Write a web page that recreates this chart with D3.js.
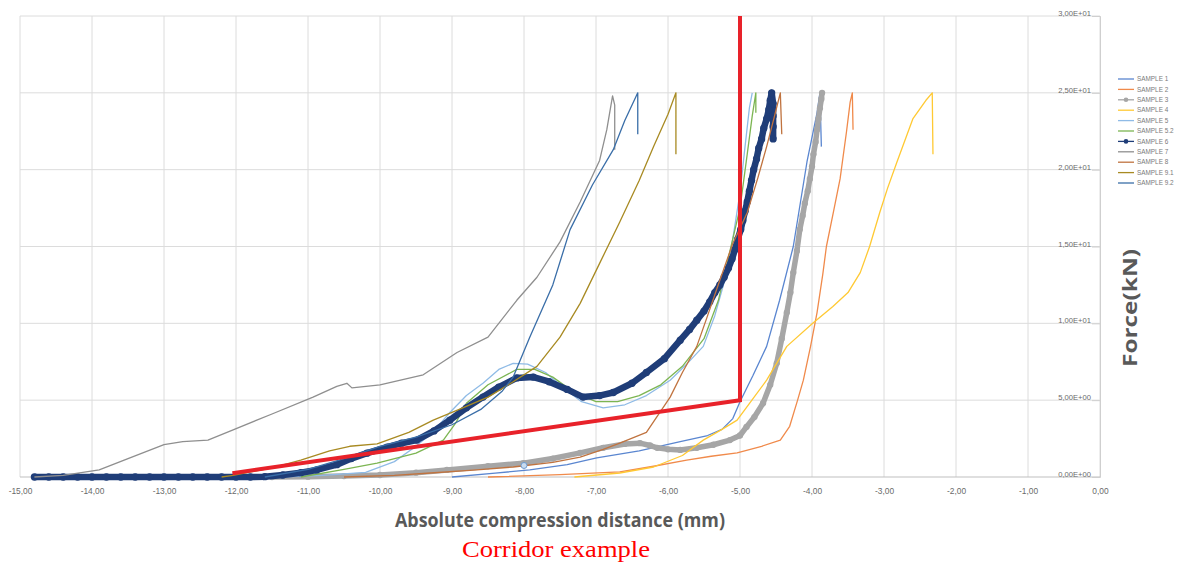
<!DOCTYPE html>
<html>
<head>
<meta charset="utf-8">
<script src="https://cdn.jsdelivr.net/npm/d3@7"></script>
<style>
  body { margin: 0; background: #fff; }
  svg { display: block; }
</style>
</head>
<body>
<div id="chart"></div>
<script>
// tick values
var xTicks = [-15, -14, -13, -12, -11, -10, -9, -8, -7, -6, -5, -4, -3, -2, -1, 0];
var yTicks = [0, 5, 10, 15, 20, 25, 30];

var seriesNames = ["SAMPLE 1", "SAMPLE 2", "SAMPLE 3", "SAMPLE 4", "SAMPLE 5", "SAMPLE 5.2",
                   "SAMPLE 6", "SAMPLE 7", "SAMPLE 8", "SAMPLE 9.1", "SAMPLE 9.2"];
var seriesColors = ["#5a86d0", "#f08a4b", "#a6a6a6", "#ffc933", "#8fbbe6", "#7cb552",
                    "#1f3d78", "#8f8f8f", "#c0733f", "#a88a22", "#3a6ea8"];

// [distance (mm), force (kN)]
var sample1 = [[-9.0,0],[-8.4,0.25],[-7.92,0.46],[-7.4,0.8],[-6.99,1.24],[-6.4,1.7],[-5.83,2.3],
  [-5.45,2.7],[-5.25,3.1],[-5.1,3.8],[-5.0,4.9],[-4.82,6.6],[-4.63,8.5],[-4.45,11.5],[-4.26,15.0],
  [-4.07,20.5],[-3.93,23.7],[-3.89,25.0],[-3.87,21.5]];
var sample2 = [[-8.5,0],[-7.5,0.15],[-6.67,0.33],[-6.2,0.7],[-5.74,1.1],[-5.4,1.35],[-5.04,1.57],
  [-4.7,2.0],[-4.44,2.4],[-4.31,3.3],[-4.2,5.0],[-4.12,6.3],[-4.02,8.5],[-3.93,10.7],[-3.85,13.2],
  [-3.8,15.0],[-3.7,17.3],[-3.61,19.4],[-3.52,22.5],[-3.47,24.4],[-3.44,25.0],[-3.43,22.6]];
var sample3 = [[-11.5,0],[-11.0,0.02],[-10.5,0.06],[-10.0,0.13],[-9.5,0.28],[-9.07,0.46],[-8.5,0.7],
  [-8.01,0.9],[-7.6,1.2],[-7.22,1.57],[-6.9,1.9],[-6.6,2.15],[-6.39,2.2],[-6.25,2.05],[-6.15,1.9],
  [-6.0,1.8],[-5.83,1.76],[-5.6,1.9],[-5.37,2.1],[-5.14,2.4],[-5.0,2.7],[-4.91,3.26],[-4.8,3.9],
  [-4.68,4.8],[-4.58,6.0],[-4.49,7.4],[-4.42,9.0],[-4.35,10.7],[-4.3,12.0],[-4.26,13.3],[-4.21,14.7],
  [-4.17,16.1],[-4.13,17.0],[-4.1,17.8],[-4.06,18.6],[-4.03,19.4],[-4.0,20.2],[-3.98,21.0],
  [-3.95,21.8],[-3.93,22.6],[-3.91,23.3],[-3.89,24.0],[-3.87,24.6],[-3.86,25.0]];
var sample4 = [[-7.3,0],[-6.67,0.26],[-6.2,0.65],[-5.8,1.4],[-5.51,2.4],[-5.25,3.1],[-5.04,3.7],
  [-4.85,4.9],[-4.63,6.3],[-4.35,8.5],[-3.99,10.0],[-3.71,11.1],[-3.5,12.0],[-3.33,13.3],[-3.2,15.0],
  [-3.06,17.2],[-2.95,18.8],[-2.82,20.5],[-2.6,23.3],[-2.42,24.5],[-2.33,25.0],[-2.32,21.0]];
var sample5 = [[-11.4,0],[-10.8,0.1],[-10.2,0.3],[-9.8,1.0],[-9.5,2.0],[-9.25,3.0],[-9.03,4.2],
  [-8.8,5.3],[-8.57,6.1],[-8.35,7.0],[-8.15,7.4],[-7.95,7.35],[-7.7,6.8],[-7.45,5.8],[-7.2,4.9],
  [-6.9,4.5],[-6.6,4.7],[-6.3,5.3],[-5.97,6.3],[-5.75,7.3],[-5.51,8.5],[-5.35,10.5],[-5.2,13.0],
  [-5.1,15.5],[-5.0,18.5],[-4.93,21.5],[-4.87,24.0],[-4.83,25.0]];
var sample52 = [[-11.1,0],[-10.5,0.5],[-10.04,0.9],[-9.5,1.55],[-9.12,2.4],[-8.95,3.5],[-8.8,4.8],
  [-8.5,6.0],[-8.1,7.0],[-7.85,7.0],[-7.6,6.5],[-7.3,5.5],[-7.0,4.9],[-6.7,4.9],[-6.4,5.3],
  [-6.1,6.0],[-5.8,7.2],[-5.5,9.0],[-5.3,11.5],[-5.15,14.5],[-5.0,17.5],[-4.9,21.0],[-4.83,23.5],
  [-4.78,25.0],[-4.78,23.7]];
var sample6 = [[-14.8,0],[-14.6,0],[-14.4,0],[-14.2,0],[-14.0,0],[-13.8,0],[-13.6,0],[-13.4,0],
  [-13.2,0],[-13.0,0],[-12.8,0],[-12.6,0],[-12.4,0],[-12.2,0],[-12.0,0],[-11.8,0],[-11.6,0.02],
  [-11.35,0.13],[-11.1,0.28],[-10.88,0.46],[-10.6,0.8],[-10.4,1.2],[-10.18,1.55],[-9.9,1.95],
  [-9.7,2.2],[-9.49,2.4],[-9.25,3.0],[-9.03,3.7],[-8.8,4.5],[-8.57,5.2],[-8.35,5.85],[-8.1,6.45],
  [-7.87,6.5],[-7.65,6.2],[-7.4,5.7],[-7.18,5.2],[-6.95,5.3],[-6.76,5.5],[-6.5,6.1],[-6.3,6.8],
  [-6.05,7.7],[-5.83,8.9],[-5.7,9.6],[-5.6,10.2],[-5.5,10.8],[-5.42,11.4],[-5.35,12.0],[-5.28,12.5],
  [-5.22,13.0],[-5.16,13.6],[-5.11,14.2],[-5.07,14.8],[-5.03,15.5],[-4.99,16.1],[-4.96,16.7],
  [-4.93,17.3],[-4.9,17.9],[-4.87,18.6],[-4.84,19.3],[-4.81,20.0],[-4.77,20.7],[-4.74,21.4],
  [-4.7,22.0],[-4.67,22.7],[-4.63,23.3],[-4.6,23.9],[-4.58,24.5],[-4.56,25.0],[-4.54,24.3],
  [-4.54,23.5],[-4.54,22.8],[-4.54,22.0]];
var sample7 = [[-14.8,0],[-14.4,0.1],[-13.9,0.46],[-13.5,1.2],[-13.0,2.1],[-12.74,2.3],[-12.39,2.4],
  [-12.04,3.07],[-11.5,4.1],[-10.93,5.2],[-10.6,5.9],[-10.46,6.1],[-10.39,5.8],[-10.0,6.0],
  [-9.4,6.65],[-8.93,8.1],[-8.5,9.1],[-8.1,11.5],[-7.82,13.0],[-7.5,15.3],[-7.22,17.9],[-6.95,20.6],
  [-6.85,22.6],[-6.77,24.8],[-6.74,24.2],[-6.74,21.3]];
var sample8 = [[-10.5,0],[-9.8,0.1],[-9.3,0.26],[-8.7,0.45],[-8.15,0.65],[-7.6,0.95],[-7.22,1.3],
  [-6.9,1.8],[-6.67,2.2],[-6.3,2.9],[-5.97,5.2],[-5.8,6.8],[-5.6,8.5],[-5.45,10.5],[-5.28,12.8],
  [-5.1,15.2],[-4.9,17.2],[-4.75,19.5],[-4.63,21.5],[-4.52,23.5],[-4.44,25.0],[-4.42,22.3]];
var sample91 = [[-12.2,0],[-12.04,0.1],[-11.5,0.6],[-11.1,1.1],[-10.7,1.7],[-10.42,2.0],[-10.04,2.15],
  [-9.6,2.9],[-9.26,3.7],[-8.9,4.4],[-8.5,5.2],[-8.15,6.2],[-7.82,7.2],[-7.5,9.1],[-7.22,11.3],
  [-6.95,13.9],[-6.67,16.6],[-6.4,19.3],[-6.2,21.5],[-6.0,23.6],[-5.89,25.0],[-5.89,21.0]];
var sample92 = [[-11.6,0],[-11.0,0.5],[-10.5,1.2],[-10.0,2.0],[-9.5,2.6],[-9.0,3.4],[-8.6,4.4],
  [-8.3,5.6],[-8.15,6.5],[-7.92,9.1],[-7.6,12.5],[-7.36,16.1],[-7.05,19.0],[-6.76,21.3],
  [-6.6,23.2],[-6.42,25.0],[-6.42,22.3]];
var strayMarker = [[-8.0, 0.75]];

// corridor (red)
var corridor = [[-12.05, 0.25], [-5.0, 5.0], [-5.0, 30.0]];

var seriesData = [sample1, sample2, sample3, sample4, sample5, sample52,
                  sample6, sample7, sample8, sample91, sample92];
var withMarkers = [false, false, true, false, false, false, true, false, false, false, false];
var bandWidth = [1.3, 1.3, 5.5, 1.3, 1.3, 1.3, 6.5, 1.3, 1.3, 1.3, 1.3];

var svg = d3.select("#chart").append("svg")
	.attr("width", 1181)
	.attr("height", 562);

var x = d3.scaleLinear().domain([-15, 0]).range([20, 1100]);
var y = d3.scaleLinear().domain([0, 30]).range([477, 16]);

// grid
svg.append("g").selectAll("line").data(xTicks).enter().append("line")
	.attr("x1", function(d) { return x(d); }).attr("x2", function(d) { return x(d); })
	.attr("y1", y(30)).attr("y2", y(0))
	.style("stroke", "#dcdcdc").style("stroke-width", 1);
svg.append("g").selectAll("line").data(yTicks).enter().append("line")
	.attr("x1", x(-15)).attr("x2", x(0))
	.attr("y1", function(d) { return y(d); }).attr("y2", function(d) { return y(d); })
	.style("stroke", function(d) { return d === 0 ? "#bfbfbf" : "#dcdcdc"; })
	.style("stroke-width", 1);

// y axis on the right at x = 0
var yAxis = d3.axisLeft(y).tickValues(yTicks).tickSize(8).tickPadding(1)
	.tickFormat(function(d) {
		var s = d.toExponential(2).split("e");
		var e = parseInt(s[1], 10);
		return s[0].replace(".", ",") + "E" + (e < 0 ? "-" : "+") + (Math.abs(e) < 10 ? "0" : "") + Math.abs(e);
	});
var gy = svg.append("g").attr("transform", "translate(" + x(0) + ",0)").call(yAxis);
gy.select(".domain").style("stroke", "#cfcfcf");
gy.selectAll(".tick line").style("stroke", "#cfcfcf");
gy.selectAll(".tick text").attr("dy", "-0.05em")
	.style("font", "7.6px 'Liberation Sans Narrow', 'Liberation Sans', sans-serif").style("fill", "#6a6a6a");

// x tick labels
var xAxis = d3.axisBottom(x).tickValues(xTicks).tickSize(0).tickPadding(11)
	.tickFormat(function(d) { return d3.format(".2f")(d).replace("−", "-").replace(".", ","); });
var gx = svg.append("g").attr("transform", "translate(0," + y(0) + ")").call(xAxis);
gx.select(".domain").remove();
gx.selectAll(".tick text")
	.style("font", "8.4px 'Liberation Sans Narrow', 'Liberation Sans', sans-serif").style("fill", "#6a6a6a");

var line = d3.line()
	.x(function(d) { return x(d[0]); })
	.y(function(d) { return y(d[1]); });

// series
seriesData.forEach(function(data, i) {
	var g = svg.append("g").attr("class", "series");
	g.append("path")
		.datum(data)
		.attr("d", line)
		.style("fill", "none")
		.style("stroke", seriesColors[i])
		.style("stroke-width", bandWidth[i])
		.style("stroke-linejoin", "round");
	if (withMarkers[i]) {
		g.selectAll("circle").data(data).enter().append("circle")
			.attr("cx", function(d) { return x(d[0]); })
			.attr("cy", function(d) { return y(d[1]); })
			.attr("r", bandWidth[i] / 2 + 0.4)
			.style("fill", seriesColors[i]);
	}
});

svg.append("g").selectAll("circle").data(strayMarker).enter().append("circle")
	.attr("cx", function(d) { return x(d[0]); })
	.attr("cy", function(d) { return y(d[1]); })
	.attr("r", 3)
	.style("fill", "#c9dcf0").style("stroke", "#6d9bd0").style("stroke-width", 1);

// corridor
svg.append("path")
	.datum(corridor)
	.attr("d", line)
	.style("fill", "none")
	.style("stroke", "#e8222a")
	.style("stroke-width", 4)
	.style("stroke-linejoin", "miter");

// legend
var legend = svg.append("g").attr("transform", "translate(1118,79)");
var item = legend.selectAll("g").data(seriesNames).enter().append("g")
	.attr("transform", function(d, i) { return "translate(0," + (i * 10.4) + ")"; });
item.append("line")
	.attr("x1", 0).attr("x2", 16).attr("y1", 0).attr("y2", 0)
	.style("stroke", function(d, i) { return seriesColors[i]; })
	.style("stroke-width", 1.3);
item.filter(function(d, i) { return withMarkers[i]; }).append("circle")
	.attr("cx", 8).attr("cy", 0).attr("r", 2.3)
	.style("fill", function(d) { return seriesColors[seriesNames.indexOf(d)]; });
item.append("text")
	.attr("x", 19).attr("y", 0).attr("dy", "0.35em")
	.style("font", "6.4px 'Liberation Sans Narrow', 'Liberation Sans', sans-serif")
	.style("fill", "#7a7a7a")
	.text(function(d) { return d; });

// axis titles
svg.append("text")
	.attr("transform", "translate(1137,308) rotate(-90)")
	.attr("text-anchor", "middle")
	.attr("textLength", 118).attr("lengthAdjust", "spacingAndGlyphs")
	.style("font", "bold 20px 'Open Sans', 'DejaVu Sans', sans-serif")
	.style("fill", "#595959")
	.text("Force(kN)");

svg.append("text")
	.attr("x", 560).attr("y", 527)
	.attr("text-anchor", "middle")
	.attr("textLength", 330).attr("lengthAdjust", "spacingAndGlyphs")
	.style("font", "bold 20px 'Open Sans', 'Liberation Sans', sans-serif")
	.style("fill", "#595959")
	.text("Absolute compression distance (mm)");

svg.append("text")
	.attr("x", 556).attr("y", 557)
	.attr("text-anchor", "middle")
	.attr("textLength", 188).attr("lengthAdjust", "spacingAndGlyphs")
	.style("font", "24px 'Liberation Serif', 'Times New Roman', serif")
	.style("fill", "#ff0000")
	.text("Corridor example");
</script>
</body>
</html>
